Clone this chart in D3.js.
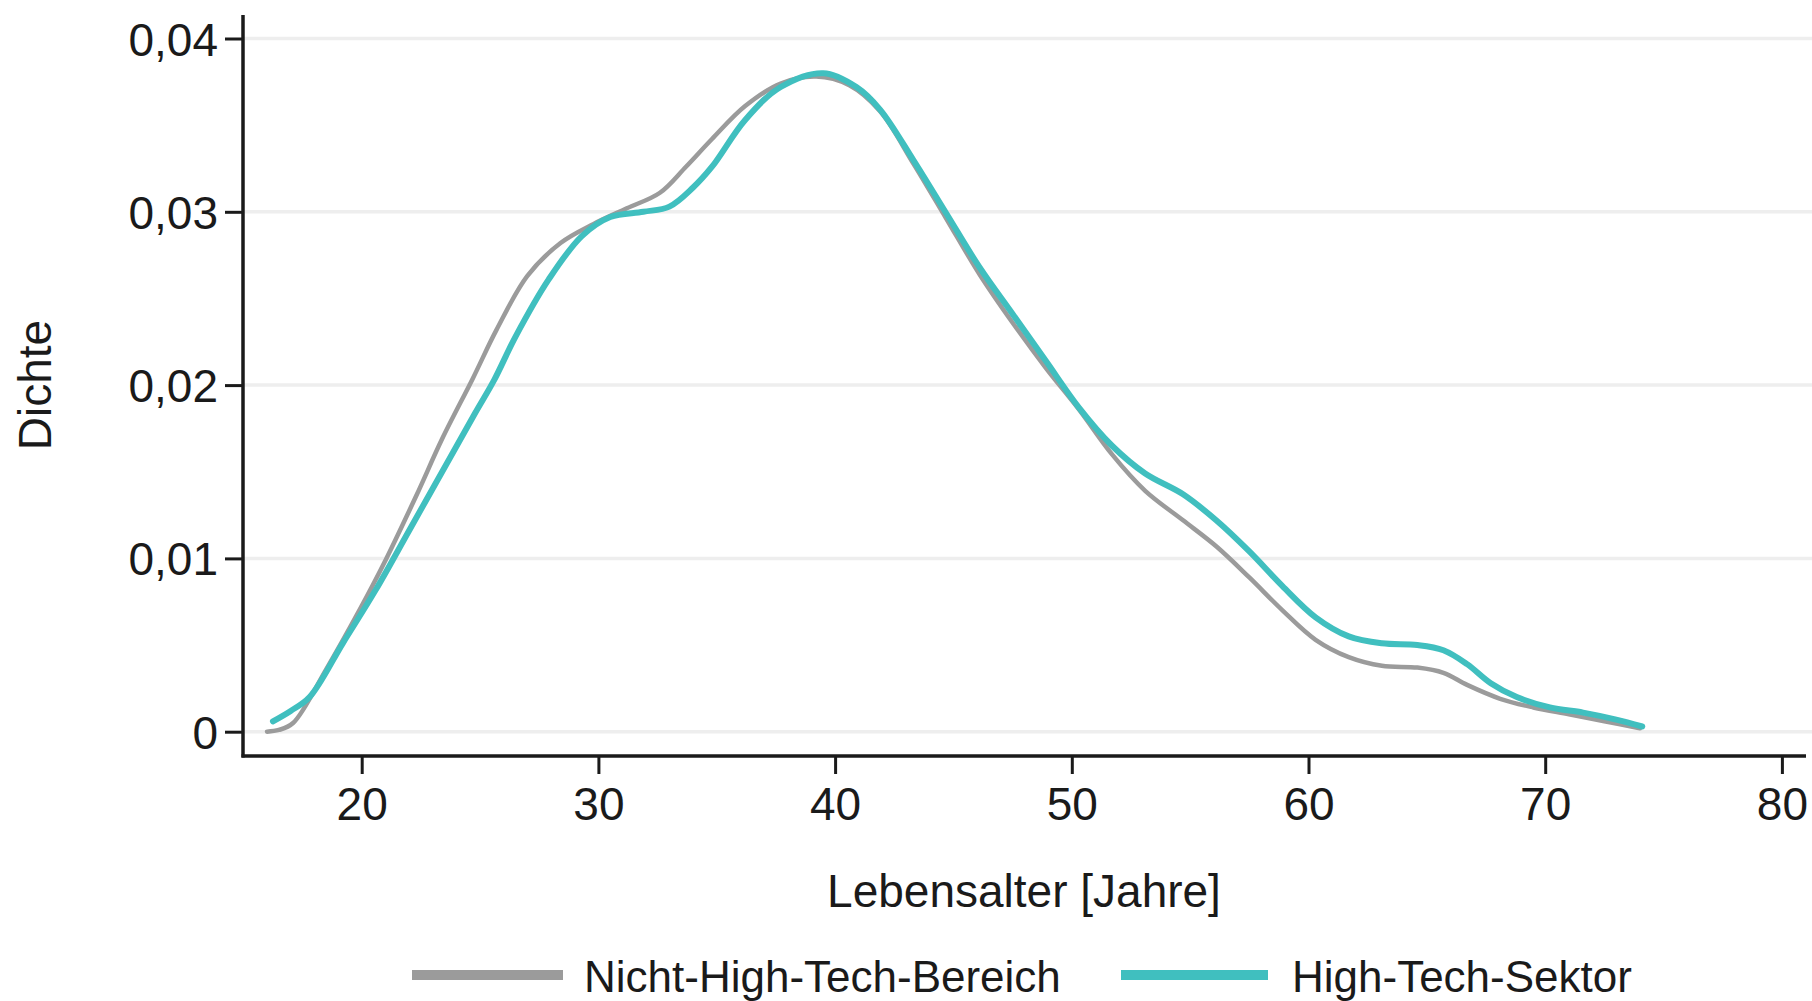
<!DOCTYPE html>
<html>
<head>
<meta charset="utf-8">
<script src="https://cdn.jsdelivr.net/npm/d3@7"></script>
<style>
  html, body { margin: 0; padding: 0; background: #fff; }
  svg { display: block; }
  text { font-family: "Liberation Sans", Arial, sans-serif; fill: #1a1a1a; }
</style>
</head>
<body>
<svg id="chart" width="1812" height="1001"></svg>
<script>
// ---- data ----
const seriesNames = ["Nicht-High-Tech-Bereich", "High-Tech-Sektor"];
const xTicks = [20, 30, 40, 50, 60, 70, 80];
const yTicks = [0, 0.01, 0.02, 0.03, 0.04];
const xLabel = "Lebensalter [Jahre]";
const yLabel = "Dichte";

// Nicht-High-Tech-Bereich: [Alter, Dichte]
const nonHighTech = [
  [16.0, 0.0000], [16.5, 0.0001], [17.1, 0.0005], [18.5, 0.0036], [19.9, 0.0070],
  [20.9, 0.0096], [22.3, 0.0136], [23.4, 0.0169], [24.7, 0.0204], [25.7, 0.0232],
  [27.0, 0.0263], [28.4, 0.0282], [29.8, 0.0293], [31.2, 0.0302], [32.6, 0.0311],
  [33.7, 0.0326], [34.8, 0.0342], [36.2, 0.0361], [37.7, 0.0374], [39.2, 0.0378],
  [40.6, 0.0373], [41.9, 0.0358], [43.3, 0.0328], [44.7, 0.0296], [46.1, 0.0264],
  [47.5, 0.0236], [48.9, 0.0210], [50.3, 0.0186], [51.7, 0.0160], [53.1, 0.0139],
  [54.7, 0.0122], [56.1, 0.0107], [57.5, 0.0089], [58.9, 0.0070], [60.3, 0.0053],
  [61.7, 0.0043], [63.1, 0.0038], [64.6, 0.0037], [65.7, 0.0034], [66.7, 0.0027],
  [68.1, 0.0019], [69.5, 0.0014], [71.0, 0.0010], [72.5, 0.0006], [74.0, 0.0002]
];

// High-Tech-Sektor: [Alter, Dichte]
const highTech = [
  [16.25, 0.0006], [17.0, 0.0012], [17.8, 0.0020], [19.2, 0.0051], [20.6, 0.0082],
  [22.0, 0.0116], [23.4, 0.0150], [24.8, 0.0184], [25.6, 0.0203], [26.5, 0.0228],
  [27.9, 0.0261], [29.3, 0.0286], [30.5, 0.0297], [31.9, 0.0300], [33.0, 0.0303],
  [34.0, 0.0314], [34.8, 0.0326], [36.2, 0.0353], [37.7, 0.0372], [39.5, 0.0380],
  [40.9, 0.0372], [41.9, 0.0359], [43.3, 0.0330], [44.7, 0.0299], [46.1, 0.0268],
  [47.5, 0.0241], [48.9, 0.0214], [50.3, 0.0187], [51.7, 0.0165], [53.1, 0.0149],
  [54.7, 0.0137], [56.1, 0.0122], [57.5, 0.0104], [58.9, 0.0084], [60.3, 0.0066],
  [61.7, 0.0055], [63.1, 0.0051], [64.6, 0.0050], [65.7, 0.0047], [66.7, 0.0039],
  [67.7, 0.0028], [68.8, 0.0020], [70.2, 0.0014], [71.6, 0.0011], [73.0, 0.0007],
  [74.1, 0.0003]
];

// ---- layout ----
const colors = ["#9b9b9b", "#40bfbf"];
const widths = [4.5, 6];
const axisX = 243, axisY = 756, axisTop = 15, axisRight = 1806;
const fontFam = "'Liberation Sans', Arial, sans-serif";

const svg = d3.select("#chart");
const x = d3.scaleLinear().domain([20, 80]).range([361.7, 1781.9]);
const y = d3.scaleLinear().domain([0, 0.04]).range([731.7, 38.5]);

// gridlines
svg.append("g").selectAll("line").data(yTicks).join("line")
  .attr("x1", axisX).attr("x2", 1812)
  .attr("y1", d => y(d)).attr("y2", d => y(d))
  .attr("stroke", "#eeeeee").attr("stroke-width", 3.5);

const fmtY = d => d === 0 ? "0" : d3.format(".2f")(d).replace(".", ",");

// y axis
const gy = svg.append("g").attr("transform", `translate(${axisX},0)`)
  .call(d3.axisLeft(y).tickValues(yTicks).tickSize(18).tickPadding(7).tickFormat(fmtY));
gy.select(".domain").remove();
gy.selectAll(".tick line").attr("stroke", "#1a1a1a").attr("stroke-width", 3);
gy.selectAll(".tick text").attr("font-size", 46).attr("dy", "0.36em")
  .style("font-family", fontFam).attr("fill", "#1a1a1a");

// x axis
const gx = svg.append("g").attr("transform", `translate(0,${axisY})`)
  .call(d3.axisBottom(x).tickValues(xTicks).tickSize(18).tickPadding(13).tickFormat(d3.format("d")));
gx.select(".domain").remove();
gx.selectAll(".tick line").attr("stroke", "#1a1a1a").attr("stroke-width", 3);
gx.selectAll(".tick text").attr("font-size", 46).attr("dy", "0.71em")
  .style("font-family", fontFam).attr("fill", "#1a1a1a");

// axis lines
svg.append("line").attr("x1", axisX).attr("x2", axisX).attr("y1", axisTop).attr("y2", axisY + 1.5)
  .attr("stroke", "#1a1a1a").attr("stroke-width", 3.5);
svg.append("line").attr("x1", axisX - 1.5).attr("x2", axisRight).attr("y1", axisY).attr("y2", axisY)
  .attr("stroke", "#1a1a1a").attr("stroke-width", 3.5);

// curves
const line = d3.line().x(d => x(d[0])).y(d => y(d[1])).curve(d3.curveCatmullRom.alpha(0.5));
[nonHighTech, highTech].forEach((s, i) => {
  svg.append("path").datum(s).attr("d", line)
    .attr("fill", "none").attr("stroke", colors[i]).attr("stroke-width", widths[i])
    .attr("stroke-linejoin", "round").attr("stroke-linecap", "round");
});

// axis titles
svg.append("text").attr("x", 1024).attr("y", 907).attr("text-anchor", "middle")
  .attr("font-size", 46).text(xLabel);
svg.append("text").attr("transform", "translate(51,385) rotate(-90)").attr("text-anchor", "middle")
  .attr("font-size", 46).text(yLabel);

// legend
const legend = [
  { x1: 412, x2: 563, tx: 584 },
  { x1: 1121, x2: 1268, tx: 1292 }
];
legend.forEach((l, i) => {
  svg.append("line").attr("x1", l.x1).attr("x2", l.x2).attr("y1", 975).attr("y2", 975)
    .attr("stroke", colors[i]).attr("stroke-width", 10);
  svg.append("text").attr("x", l.tx).attr("y", 992).attr("font-size", 44).text(seriesNames[i]);
});
</script>
</body>
</html>
